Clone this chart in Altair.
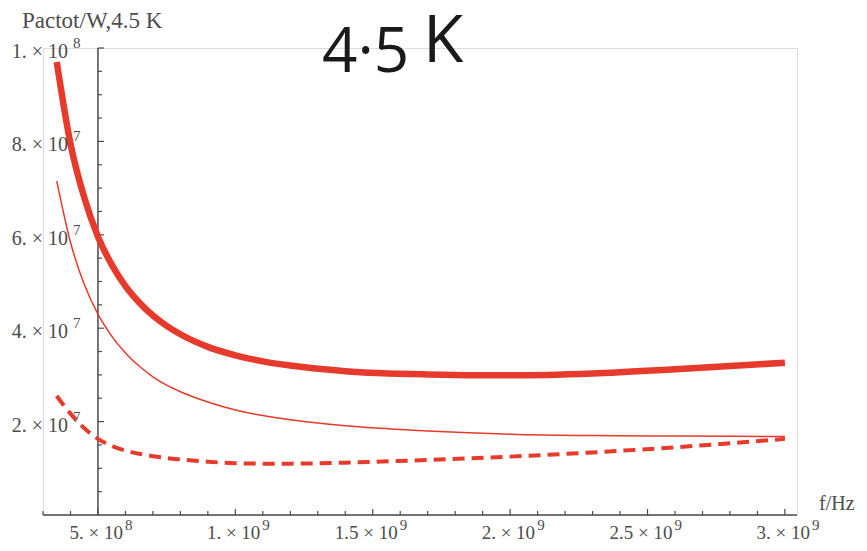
import altair as alt
import pandas as pd

# ---- data ----
freq = [3.5e8, 4.0e8, 4.5e8, 5.0e8, 5.5e8, 6.0e8, 6.5e8, 7.0e8, 7.5e8, 8.0e8, 9.0e8, 1.0e9,
        1.1e9, 1.2e9, 1.4e9, 1.7e9, 2.0e9, 2.3e9, 2.6e9, 3.0e9]
p_thick = [9.7e7, 7.95e7, 6.8e7, 5.96e7, 5.36e7, 4.90e7, 4.55e7, 4.27e7, 4.05e7, 3.87e7, 3.60e7, 3.42e7,
           3.29e7, 3.20e7, 3.08e7, 3.01e7, 2.99e7, 3.03e7, 3.12e7, 3.26e7]
p_thin = [7.15e7, 5.84e7, 4.94e7, 4.30e7, 3.83e7, 3.47e7, 3.19e7, 2.96e7, 2.78e7, 2.64e7, 2.42e7, 2.25e7,
          2.13e7, 2.04e7, 1.91e7, 1.80e7, 1.73e7, 1.70e7, 1.69e7, 1.68e7]
p_dashed = [2.55e7, 2.17e7, 1.86e7, 1.63e7, 1.48e7, 1.38e7, 1.31e7, 1.26e7, 1.22e7, 1.19e7, 1.14e7, 1.11e7,
            1.10e7, 1.10e7, 1.12e7, 1.18e7, 1.25e7, 1.34e7, 1.45e7, 1.63e7]

x_major = [5e8, 1e9, 1.5e9, 2e9, 2.5e9, 3e9]
x_mant = ["5. × 10", "1. × 10", "1.5 × 10", "2. × 10", "2.5 × 10", "3. × 10"]
x_exp = ["8", "9", "9", "9", "9", "9"]
x_minor = [3e8, 4e8, 6e8, 7e8, 8e8, 9e8, 1.1e9, 1.2e9, 1.3e9, 1.4e9, 1.6e9, 1.7e9,
           1.8e9, 1.9e9, 2.1e9, 2.2e9, 2.3e9, 2.4e9, 2.6e9, 2.7e9, 2.8e9, 2.9e9]

y_major = [2e7, 4e7, 6e7, 8e7, 1e8]
y_mant = ["2. × 10", "4. × 10", "6. × 10", "8. × 10", "1. × 10"]
y_exp = ["7", "7", "7", "7", "8"]
y_minor = [5e6, 1e7, 1.5e7, 2.5e7, 3e7, 3.5e7, 4.5e7, 5e7, 5.5e7, 6.5e7, 7e7, 7.5e7,
           8.5e7, 9e7, 9.5e7]

x_range = [3.0e8, 3.044e9]
y_range = [0, 1.0e8]
y_axis_at = 5e8

RED = "#e63a2c"
AXIS = "#4a4a4a"
LABEL = "#4d4d4d"
SERIF = "Liberation Serif"

xs = alt.Scale(domain=x_range, nice=False, zero=False)
ys = alt.Scale(domain=y_range, nice=False, zero=False)

df = pd.DataFrame({"f": freq, "thick": p_thick, "thin": p_thin, "dashed": p_dashed})


def line(col, **kw):
    return alt.Chart(df).mark_line(color=RED, interpolate="monotone", **kw).encode(
        x=alt.X("f:Q", scale=xs, axis=None),
        y=alt.Y(f"{col}:Q", scale=ys, axis=None),
    )


thick = line("thick", strokeWidth=6.5)
thin = line("thin", strokeWidth=1.5)
dashed = line("dashed", strokeWidth=4, strokeDash=[12, 7])

one = pd.DataFrame({"a": [0]})

x_axis_line = alt.Chart(one).mark_rule(color=AXIS, strokeWidth=1.5).encode(
    x=alt.X(datum=x_range[0], scale=xs, axis=None),
    x2=alt.datum(x_range[1]),
    y=alt.Y(datum=0, scale=ys, axis=None),
)
y_axis_line = alt.Chart(one).mark_rule(color=AXIS, strokeWidth=1.5).encode(
    x=alt.X(datum=y_axis_at, scale=xs, axis=None),
    y=alt.Y(datum=y_range[0], scale=ys, axis=None),
    y2=alt.datum(y_range[1]),
)

dfx_major = pd.DataFrame({"v": x_major, "m": x_mant, "e": x_exp})
dfx_minor = pd.DataFrame({"v": x_minor})
dfy_major = pd.DataFrame({"v": y_major, "m": y_mant, "e": y_exp})
dfy_minor = pd.DataFrame({"v": y_minor})


def xticks(d, length):
    return alt.Chart(d).mark_rule(color=AXIS, strokeWidth=1.2, y2Offset=-length).encode(
        x=alt.X("v:Q", scale=xs, axis=None),
        y=alt.Y(datum=0, scale=ys, axis=None),
        y2=alt.datum(0),
    )


def yticks(d, length):
    return alt.Chart(d).mark_rule(color=AXIS, strokeWidth=1.2, x2Offset=length).encode(
        x=alt.X(datum=y_axis_at, scale=xs, axis=None),
        x2=alt.datum(y_axis_at),
        y=alt.Y("v:Q", scale=ys, axis=None),
    )


x_lab_m = alt.Chart(dfx_major).mark_text(
    align="right", baseline="middle", dx=25, dy=18, font=SERIF, fontSize=19, color=LABEL
).encode(x=alt.X("v:Q", scale=xs, axis=None), y=alt.Y(datum=0, scale=ys, axis=None), text="m:N")
x_lab_e = alt.Chart(dfx_major).mark_text(
    align="left", baseline="middle", dx=27, dy=10, font=SERIF, fontSize=15, color=LABEL
).encode(x=alt.X("v:Q", scale=xs, axis=None), y=alt.Y(datum=0, scale=ys, axis=None), text="e:N")

y_lab_m = alt.Chart(dfy_major).mark_text(
    align="right", baseline="middle", dx=-30, dy=4, font=SERIF, fontSize=20, color=LABEL
).encode(x=alt.X(datum=y_axis_at, scale=xs, axis=None), y=alt.Y("v:Q", scale=ys, axis=None), text="m:N")
y_lab_e = alt.Chart(dfy_major).mark_text(
    align="left", baseline="middle", dx=-25, dy=-5, font=SERIF, fontSize=15, color=LABEL
).encode(x=alt.X(datum=y_axis_at, scale=xs, axis=None), y=alt.Y("v:Q", scale=ys, axis=None), text="e:N")

x_title = alt.Chart(one).mark_text(
    align="left", baseline="middle", dx=22, dy=-11, font=SERIF, fontSize=20, color=LABEL
).encode(x=alt.X(datum=x_range[1], scale=xs, axis=None), y=alt.Y(datum=0, scale=ys, axis=None),
         text=alt.value("f/Hz"))
y_title = alt.Chart(one).mark_text(
    align="left", baseline="middle", dx=-21, dy=-27, font=SERIF, fontSize=23, color=LABEL
).encode(x=alt.X(datum=x_range[0], scale=xs, axis=None), y=alt.Y(datum=y_range[1], scale=ys, axis=None),
         text=alt.value("Pactot/W,4.5 K"))

title_num = alt.Chart(one).mark_text(
    align="left", baseline="alphabetic", font="Open Sans", fontSize=62, color="#1a1a1a"
).encode(x=alt.value(279), y=alt.value(24), text=alt.value("4·5"))
title_k = alt.Chart(one).mark_text(
    align="left", baseline="alphabetic", font="Open Sans", fontSize=66, color="#1a1a1a"
).encode(x=alt.value(380), y=alt.value(14), text=alt.value("K"))

chart = alt.layer(
    x_axis_line, y_axis_line,
    xticks(dfx_minor, 4), xticks(dfx_major, 6),
    yticks(dfy_minor, 4), yticks(dfy_major, 6),
    thin, dashed, thick,
    x_lab_m, x_lab_e, y_lab_m, y_lab_e, x_title, y_title, title_num, title_k,
).properties(
    width=754, height=467,
    autosize=alt.AutoSizeParams(type="none"),
    padding={"left": 35, "top": 40, "right": 60, "bottom": 28},
).configure_view(stroke=None).configure(background="white")

chart.save("out.html", embed_options={"renderer": "svg", "actions": False})
